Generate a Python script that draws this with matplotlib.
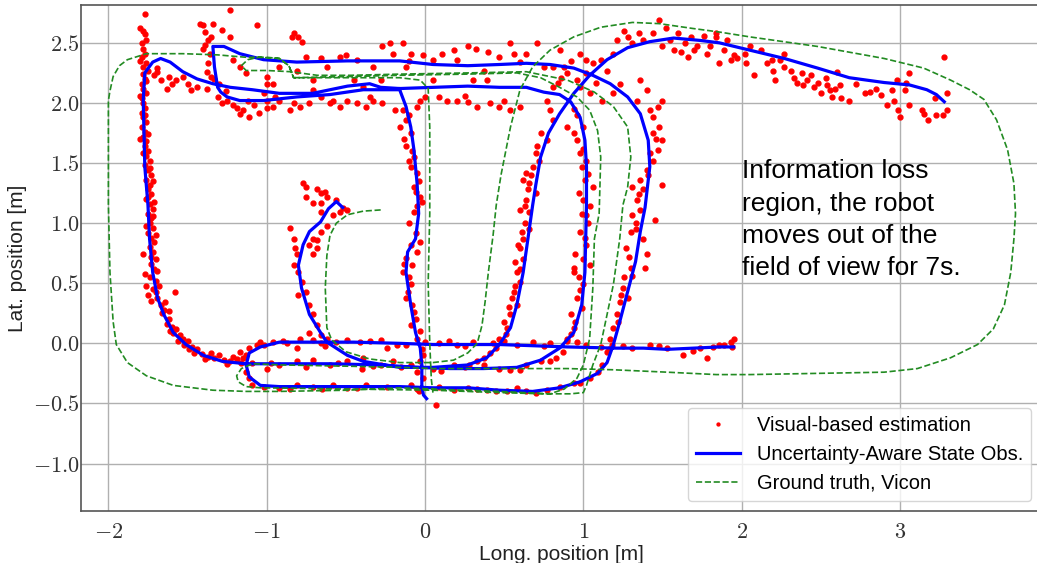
import numpy as np
import matplotlib
matplotlib.use('Agg')
import matplotlib.pyplot as plt
from matplotlib.ticker import FuncFormatter

# ---- estimator trajectory (blue), one list per piece
obs_part1 = [(-0.52, 1.13), (-0.56, 1.18), (-0.61, 1.12), (-0.66, 1.01), (-0.73, 0.93), (-0.77, 0.82),
             (-0.80, 0.65), (-0.78, 0.46), (-0.73, 0.24), (-0.66, 0.09), (-0.62, 0.01), (-0.49, -0.10),
             (-0.39, -0.15), (-0.16, -0.20), (0.05, -0.20), (0.27, -0.18), (0.39, -0.12), (0.47, -0.01),
             (0.54, 0.13), (0.58, 0.32), (0.62, 0.59), (0.65, 0.87), (0.68, 1.15), (0.70, 1.32),
             (0.73, 1.55), (0.78, 1.75), (0.85, 1.91), (0.94, 2.08), (1.04, 2.23), (1.15, 2.36),
             (1.28, 2.46), (1.42, 2.51), (1.57, 2.54), (1.74, 2.52), (1.86, 2.50), (2.05, 2.44),
             (2.27, 2.37), (2.48, 2.29), (2.68, 2.21), (2.90, 2.17), (3.06, 2.15), (3.17, 2.11),
             (3.23, 2.07), (3.28, 2.01)]
obs_part2 = [(1.95, -0.03), (1.86, -0.03), (1.70, -0.04), (1.53, -0.05), (1.38, -0.04), (1.21, -0.04),
             (0.90, -0.03), (0.47, -0.01), (0.05, -0.01), (-0.16, 0.00), (-0.45, 0.01), (-0.71, 0.01),
             (-0.92, 0.01), (-1.04, -0.03), (-1.11, -0.08), (-1.13, -0.18), (-1.11, -0.28), (-1.04, -0.35),
             (-0.92, -0.36), (-0.50, -0.36), (-0.16, -0.36), (0.05, -0.37), (0.27, -0.37), (0.47, -0.39),
             (0.68, -0.40), (0.85, -0.37), (0.98, -0.32), (1.09, -0.25), (1.15, -0.16), (1.19, -0.01),
             (1.23, 0.18), (1.28, 0.43), (1.33, 0.68), (1.36, 0.93), (1.39, 1.13), (1.42, 1.47),
             (1.41, 1.69), (1.36, 1.91), (1.28, 2.05), (1.17, 2.16), (1.06, 2.23), (0.94, 2.29),
             (0.79, 2.32), (0.64, 2.33), (0.47, 2.32), (0.27, 2.31), (0.05, 2.32), (-0.16, 2.35),
             (-0.49, 2.35), (-0.81, 2.34), (-1.02, 2.36), (-1.17, 2.41), (-1.27, 2.47), (-1.34, 2.47),
             (-1.33, 2.30), (-1.31, 2.13), (-1.29, 2.09), (-1.25, 2.05), (-1.17, 2.02), (-1.02, 2.02),
             (-0.81, 2.05), (-0.60, 2.07), (-0.39, 2.11), (-0.16, 2.11), (-0.12, 1.97), (-0.09, 1.80),
             (-0.07, 1.61), (-0.05, 1.33), (-0.04, 1.08), (-0.06, 0.87), (-0.11, 0.76), (-0.12, 0.59),
             (-0.09, 0.32), (-0.06, 0.09), (-0.03, -0.04), (-0.02, -0.18), (-0.02, -0.35), (-0.01, -0.43),
             (0.01, -0.46)]
obs_part3 = [(-0.16, 2.12), (0.05, 2.13), (0.27, 2.14), (0.47, 2.13), (0.64, 2.13), (0.75, 2.09),
             (0.85, 2.07), (0.92, 2.01), (0.98, 1.88), (1.01, 1.69), (1.02, 1.47), (1.02, 1.15),
             (1.01, 0.59), (0.99, 0.32), (0.94, 0.09), (0.85, -0.04), (0.73, -0.14), (0.58, -0.20),
             (0.37, -0.21), (0.16, -0.21), (-0.05, -0.20), (-0.28, -0.18), (-0.60, -0.17), (-0.92, -0.17),
             (-1.13, -0.17), (-1.28, -0.15), (-1.40, -0.10), (-1.51, -0.01), (-1.59, 0.09), (-1.65, 0.24),
             (-1.69, 0.38), (-1.72, 0.59), (-1.74, 0.87), (-1.75, 1.15), (-1.77, 1.47), (-1.78, 2.02),
             (-1.77, 2.25), (-1.72, 2.34), (-1.67, 2.37), (-1.61, 2.34), (-1.53, 2.26), (-1.44, 2.20),
             (-1.34, 2.16), (-1.23, 2.13), (-1.09, 2.11), (-0.92, 2.08), (-0.71, 2.08), (-0.49, 2.14),
             (-0.35, 2.16), (-0.28, 2.13), (-0.16, 2.12)]

# ---- ground truth (green dashed)
vicon_main = [(-0.28, 1.11), (-0.39, 1.10), (-0.49, 1.07), (-0.56, 1.00), (-0.60, 0.90), (-0.62, 0.73),
              (-0.63, 0.46), (-0.62, 0.13), (-0.59, 0.03), (-0.50, -0.07), (-0.35, -0.13), (-0.16, -0.16),
              (0.05, -0.16), (0.18, -0.14), (0.27, -0.08), (0.33, 0.00), (0.36, 0.15), (0.38, 0.35),
              (0.40, 0.59), (0.43, 0.90), (0.45, 1.15), (0.48, 1.40), (0.54, 1.80), (0.60, 2.11),
              (0.68, 2.30), (0.79, 2.44), (0.94, 2.55), (1.11, 2.63), (1.31, 2.67), (1.48, 2.66),
              (1.69, 2.62), (1.86, 2.59), (2.05, 2.55), (2.48, 2.47), (2.90, 2.37), (3.15, 2.29),
              (3.32, 2.19), (3.44, 2.11), (3.53, 2.03), (3.61, 1.86), (3.68, 1.61), (3.72, 1.33),
              (3.73, 1.08), (3.72, 0.87), (3.70, 0.59), (3.66, 0.32), (3.59, 0.12), (3.49, -0.01),
              (3.32, -0.12), (3.11, -0.21), (2.90, -0.24), (2.48, -0.25), (2.05, -0.26), (1.84, -0.26),
              (1.53, -0.24), (1.19, -0.22), (0.90, -0.21), (0.47, -0.21), (0.05, -0.21), (-0.16, -0.20),
              (-0.50, -0.19), (-0.90, -0.18), (-1.09, -0.17), (-1.16, -0.21), (-1.19, -0.27), (-1.18, -0.32),
              (-1.13, -0.36), (-1.04, -0.37), (-0.50, -0.38), (0.05, -0.39), (0.47, -0.41), (0.75, -0.42),
              (0.92, -0.42), (1.00, -0.41), (1.02, -0.35), (1.06, -0.18), (1.11, -0.01), (1.15, 0.24),
              (1.19, 0.49), (1.23, 0.87), (1.25, 1.15), (1.28, 1.30), (1.30, 1.55), (1.28, 1.80),
              (1.19, 1.97), (1.07, 2.09), (0.90, 2.19), (0.64, 2.26), (0.27, 2.25), (-0.16, 2.24),
              (-0.47, 2.23), (-0.68, 2.23), (-0.85, 2.26), (-1.00, 2.27), (-1.13, 2.27), (-1.16, 2.31),
              (-1.12, 2.36), (-1.05, 2.38), (-0.92, 2.37), (-0.86, 2.31), (-0.83, 2.21), (-0.68, 2.21),
              (-0.47, 2.21), (-0.16, 2.21), (-0.03, 2.19), (0.02, 2.12), (0.03, 1.80), (0.03, 1.08),
              (0.02, 0.50), (0.03, 0.00), (0.04, -0.30), (0.05, -0.41)]
vicon_outer = [(-0.83, 2.21), (-0.47, 2.22), (-0.16, 2.23), (0.27, 2.24), (0.58, 2.25), (0.73, 2.21),
               (0.85, 2.13), (0.96, 2.05), (1.04, 1.94), (1.09, 1.77), (1.11, 1.55), (1.10, 1.08),
               (1.07, 0.87), (1.06, 0.46), (1.04, 0.04), (1.00, -0.18), (0.96, -0.29), (0.88, -0.38),
               (0.79, -0.42), (0.47, -0.40), (0.05, -0.38), (-0.16, -0.37), (-0.49, -0.39), (-0.92, -0.40),
               (-1.13, -0.40), (-1.34, -0.39), (-1.59, -0.35), (-1.76, -0.27), (-1.88, -0.16), (-1.95, -0.01),
               (-1.97, 0.18), (-1.99, 0.59), (-2.00, 1.15), (-2.00, 2.02), (-1.99, 2.10), (-1.97, 2.22),
               (-1.93, 2.31), (-1.88, 2.36), (-1.76, 2.41), (-1.53, 2.41), (-1.31, 2.40), (-1.13, 2.38),
               (-1.00, 2.38), (-0.92, 2.37), (-0.86, 2.31), (-0.83, 2.21)]

# ---- visual-based estimates (red dots), grouped by area
vis_left_column = [(-1.77, 2.74), (-1.78, 2.60), (-1.77, 2.57), (-1.79, 2.50), (-1.78, 2.45), (-1.77, 2.41),
                   (-1.79, 2.38), (-1.76, 2.33), (-1.78, 2.30), (-1.75, 2.27), (-1.78, 2.24), (-1.77, 2.20),
                   (-1.79, 2.16), (-1.78, 2.12), (-1.76, 2.08), (-1.79, 2.04), (-1.78, 2.00), (-1.77, 1.96),
                   (-1.79, 1.92), (-1.78, 1.88), (-1.76, 1.84), (-1.79, 1.80), (-1.77, 1.76), (-1.78, 1.72),
                   (-1.76, 1.68), (-1.77, 1.64), (-1.75, 1.60), (-1.76, 1.56), (-1.74, 1.52), (-1.77, 1.48),
                   (-1.75, 1.44), (-1.73, 1.40), (-1.76, 1.36), (-1.74, 1.32), (-1.75, 1.28), (-1.73, 1.24),
                   (-1.76, 1.20), (-1.74, 1.16), (-1.72, 1.12), (-1.75, 1.08), (-1.73, 1.04), (-1.74, 1.00),
                   (-1.72, 0.96), (-1.75, 0.92), (-1.73, 0.88), (-1.71, 0.84), (-1.74, 0.80), (-1.78, 0.74),
                   (-1.72, 0.76), (-1.70, 0.70), (-1.73, 0.66), (-1.71, 0.62), (-1.77, 0.58), (-1.74, 0.55),
                   (-1.70, 0.52), (-1.76, 0.48), (-1.72, 0.45), (-1.58, 0.43), (-1.75, 0.40), (-1.69, 0.38),
                   (-1.73, 0.35), (-1.67, 0.32), (-1.65, 0.28), (-1.66, 0.25), (-1.80, 2.62), (-1.76, 2.52),
                   (-1.80, 2.35), (-1.76, 2.18), (-1.80, 2.06), (-1.77, 1.90), (-1.80, 1.70), (-1.75, 1.74),
                   (-1.78, 1.58), (-1.74, 1.46), (-1.72, 1.35), (-1.75, 1.22), (-1.71, 1.18), (-1.72, 1.06),
                   (-1.76, 0.98), (-1.70, 0.90), (-1.73, 0.72), (-1.69, 0.60), (-1.68, 0.48), (-1.70, 0.43),
                   (-1.64, 0.34), (-1.62, 0.27)]
vis_left_corner = [(-1.62, 0.20), (-1.63, 0.16), (-1.60, 0.14), (-1.57, 0.12), (-1.59, 0.09), (-1.55, 0.07),
                   (-1.53, 0.04), (-1.50, 0.02), (-1.52, -0.01), (-1.47, -0.03), (-1.44, -0.05), (-1.46, -0.08),
                   (-1.41, -0.09), (-1.37, -0.11), (-1.33, -0.12), (-1.30, -0.10), (-1.27, -0.14), (-1.23, -0.15),
                   (-1.19, -0.13), (-1.16, -0.16), (-1.61, 0.10), (-1.56, 0.02), (-1.49, -0.05), (-1.39, -0.13),
                   (-1.35, -0.08), (-1.25, -0.17), (-1.21, -0.11)]
vis_top_left = [(-1.69, 2.29), (-1.69, 2.26), (-1.71, 2.23), (-1.67, 2.19), (-1.62, 2.22), (-1.63, 2.12),
                (-1.60, 2.16), (-1.57, 2.19), (-1.50, 2.16), (-1.53, 2.22), (-1.44, 2.13), (-1.48, 2.11),
                (-1.38, 2.12), (-1.42, 2.66), (-1.40, 2.65), (-1.39, 2.59), (-1.37, 2.52), (-1.39, 2.48),
                (-1.36, 2.41), (-1.37, 2.33), (-1.38, 2.26), (-1.35, 2.22), (-1.34, 2.66), (-1.28, 2.61),
                (-1.23, 2.77), (-1.23, 2.55), (-1.30, 2.16), (-1.31, 2.05), (-1.28, 2.00), (-1.25, 2.02),
                (-1.21, 1.98), (-1.19, 1.96), (-1.15, 1.94), (-1.11, 1.88), (-1.17, 1.91), (-1.21, 2.36),
                (-1.17, 2.30), (-1.13, 2.25), (-1.06, 2.65), (-1.05, 1.92), (-1.08, 1.98), (-1.00, 1.96),
                (-1.12, 2.02), (-1.40, 2.45), (-1.35, 2.55), (-1.33, 2.20), (-1.26, 2.10)]
vis_top_mid = [(-1.00, 2.22), (-0.96, 2.16), (-1.00, 2.02), (-0.96, 1.97), (-0.92, 2.02), (-0.85, 1.94),
               (-0.83, 2.00), (-0.79, 1.97), (-0.73, 2.00), (-0.71, 2.11), (-0.66, 2.05), (-0.58, 2.02),
               (-0.54, 1.97), (-0.49, 2.02), (-0.43, 2.00), (-0.37, 1.97), (-0.33, 2.02), (-0.27, 2.00),
               (-0.19, 1.94), (-0.92, 2.30), (-0.81, 2.27), (-0.75, 2.38), (-0.66, 2.37), (-0.62, 2.30),
               (-0.54, 2.38), (-0.43, 2.36), (-0.33, 2.30), (-0.27, 2.47), (-0.22, 2.50), (-0.20, 2.41),
               (-0.83, 2.58), (-0.80, 2.55), (-0.78, 2.51), (-0.84, 2.55), (-1.00, 2.16), (-0.71, 2.19),
               (-0.45, 2.19), (-0.39, 2.13), (-0.28, 2.19), (-1.02, 2.08), (-0.14, 2.50), (-0.09, 2.41),
               (-0.12, 2.30), (-0.01, 2.40), (0.05, 2.36), (0.11, 2.41), (0.18, 2.44), (0.27, 2.47),
               (0.32, 2.45), (0.37, 2.27), (0.47, 2.38), (0.54, 2.50), (0.56, 2.41), (0.64, 2.41),
               (0.71, 2.50), (0.75, 2.30), (0.81, 2.30), (0.85, 2.44), (0.05, 2.19), (0.09, 2.05),
               (0.14, 2.02), (0.20, 2.02), (0.27, 2.01), (0.33, 1.97), (0.41, 2.00), (0.47, 1.97),
               (0.54, 1.94), (0.60, 1.97), (0.30, 2.19), (0.39, 2.19), (-0.03, 2.02), (-0.05, 1.97),
               (-0.60, 2.00), (-0.35, 2.05), (-0.95, 2.05), (0.00, 2.05), (0.25, 2.06), (0.50, 2.02),
               (-0.50, 2.40), (-0.10, 2.35), (0.20, 2.36), (0.60, 2.34), (0.40, 2.42)]
vis_cross = [(0.98, 2.41), (1.02, 2.36), (1.06, 2.33), (1.11, 2.36), (0.96, 2.19), (1.02, 2.25),
             (1.15, 2.27), (1.19, 2.41), (1.21, 2.52), (1.28, 2.55), (1.31, 2.50), (1.38, 2.52),
             (1.44, 2.58), (1.48, 2.69), (1.50, 2.47), (1.57, 2.44), (1.66, 2.38), (1.72, 2.47),
             (1.80, 2.47), (1.84, 2.58), (1.36, 2.19), (1.40, 2.11), (1.34, 2.02), (1.47, 1.97),
             (1.50, 2.02), (1.23, 2.16), (1.19, 2.08), (0.81, 2.13), (0.77, 2.02), (0.79, 1.94),
             (0.81, 1.86), (0.73, 1.75), (0.77, 1.69), (0.71, 1.64), (0.90, 1.80), (0.94, 1.75),
             (0.96, 1.69), (0.90, 2.25), (0.86, 2.21), (0.88, 2.30), (0.92, 2.35), (0.84, 2.17),
             (0.98, 2.13), (1.04, 2.08), (1.08, 2.17), (1.12, 2.02), (1.55, 2.52), (1.60, 2.58),
             (1.64, 2.50), (1.68, 2.55), (1.76, 2.56), (1.52, 2.62), (1.35, 2.58), (1.26, 2.60),
             (1.62, 2.42), (1.70, 2.44), (1.78, 2.41), (0.96, 1.90), (1.00, 1.80), (0.94, 1.95)]
vis_top_right = [(1.84, 2.55), (1.89, 2.44), (1.91, 2.52), (1.86, 2.33), (1.93, 2.36), (1.95, 2.40),
                 (1.97, 2.37), (2.02, 2.41), (2.05, 2.47), (2.03, 2.33), (2.08, 2.23), (2.12, 2.44),
                 (2.16, 2.33), (2.19, 2.36), (2.20, 2.27), (2.21, 2.19), (2.24, 2.36), (2.27, 2.30),
                 (2.27, 2.41), (2.31, 2.27), (2.33, 2.21), (2.35, 2.17), (2.38, 2.25), (2.39, 2.15),
                 (2.41, 2.19), (2.44, 2.23), (2.46, 2.13), (2.48, 2.17), (2.50, 2.08), (2.53, 2.21),
                 (2.54, 2.15), (2.56, 2.11), (2.57, 2.05), (2.59, 2.12), (2.60, 2.26), (2.62, 2.15),
                 (2.63, 2.04), (2.68, 2.02), (2.72, 2.16), (2.78, 2.08), (2.81, 2.09), (2.85, 2.12),
                 (2.88, 2.07), (2.92, 1.98), (2.95, 2.11), (2.96, 2.02), (2.98, 2.19), (2.99, 1.94),
                 (3.00, 1.88), (3.03, 2.11), (3.04, 2.17), (3.06, 2.25), (3.06, 1.98), (3.14, 1.94),
                 (3.15, 1.91), (3.18, 1.86), (3.22, 2.04), (3.23, 1.90), (3.27, 1.90), (3.28, 2.38),
                 (3.30, 2.08), (3.30, 1.94)]
vis_col_06 = [(0.68, 1.47), (0.64, 1.42), (0.66, 1.33), (0.62, 1.36), (0.64, 1.19), (0.60, 1.11),
              (0.66, 1.09), (0.62, 0.87), (0.60, 0.79), (0.58, 0.59), (0.60, 0.51), (0.56, 0.43),
              (0.58, 0.32), (0.54, 0.24), (0.52, 0.13), (0.47, 0.04), (0.45, -0.04), (0.41, -0.08),
              (0.37, -0.12), (0.33, -0.15), (0.28, -0.18), (0.70, 1.25), (0.63, 1.00), (0.66, 0.95),
              (0.57, 0.68), (0.62, 0.70), (0.55, 0.38), (0.50, 0.18), (0.70, 1.58), (0.72, 1.52),
              (0.67, 1.40), (0.65, 1.28), (0.63, 1.14), (0.61, 0.93), (0.59, 0.82), (0.60, 0.62),
              (0.57, 0.48), (0.53, 0.30), (0.51, 0.08)]
vis_col_10 = [(0.98, 1.58), (1.02, 1.52), (0.99, 1.47), (1.01, 1.36), (1.06, 1.30), (1.00, 1.19),
              (1.04, 1.14), (1.02, 1.07), (0.98, 0.93), (1.02, 0.82), (0.95, 0.74), (1.04, 0.65),
              (0.94, 0.59), (1.00, 0.49), (0.96, 0.38), (0.99, 0.29), (0.92, 0.24), (0.94, 0.13),
              (0.90, 0.04), (0.87, -0.07), (0.83, -0.12), (0.79, -0.15), (0.94, 0.63), (1.03, 1.00),
              (0.97, 1.25), (1.00, 0.70), (1.00, 1.62), (1.03, 1.41), (0.99, 1.08), (1.01, 0.88),
              (0.97, 0.55), (0.98, 0.44), (0.95, 0.18), (0.92, 0.08)]
vis_col_14 = [(1.44, 1.88), (1.48, 1.80), (1.44, 1.75), (1.50, 1.69), (1.47, 1.61), (1.44, 1.52),
              (1.50, 1.32), (1.40, 1.44), (1.36, 1.36), (1.38, 1.28), (1.34, 1.19), (1.36, 1.11),
              (1.31, 1.30), (1.31, 1.07), (1.30, 0.93), (1.38, 0.87), (1.27, 0.79), (1.39, 0.63),
              (1.30, 0.63), (1.25, 0.46), (1.23, 0.34), (1.28, 0.38), (1.21, 0.24), (1.19, 0.13),
              (1.17, 0.04), (1.15, -0.07), (1.12, -0.18), (1.09, -0.24), (1.04, -0.29), (0.98, -0.33),
              (1.45, 1.03), (1.40, 0.74), (1.33, 1.00), (1.26, 0.55), (1.42, 1.94), (1.46, 1.70),
              (1.42, 1.58), (1.41, 1.40), (1.35, 1.24), (1.33, 0.95), (1.29, 0.72), (1.31, 0.56),
              (1.24, 0.40), (1.22, 0.18), (1.18, -0.01)]
vis_col_00 = [(-0.14, 1.94), (-0.12, 1.86), (-0.16, 1.80), (-0.09, 1.75), (-0.12, 1.64), (-0.07, 1.55),
              (-0.09, 1.47), (-0.05, 1.42), (-0.07, 1.30), (-0.03, 1.22), (-0.05, 1.14), (-0.07, 1.09),
              (-0.03, 0.84), (-0.09, 0.82), (-0.12, 0.71), (-0.05, 0.76), (-0.14, 0.59), (-0.09, 0.49),
              (-0.12, 0.38), (-0.07, 0.26), (-0.09, 0.15), (-0.05, 0.04), (-0.01, -0.10), (-0.05, -0.24),
              (-0.01, -0.29), (0.07, -0.51), (-0.04, -0.40), (-0.10, 1.00), (-0.08, 0.65), (-0.10, 1.90),
              (-0.13, 1.70), (-0.08, 1.60), (-0.10, 1.52), (-0.04, 1.35), (-0.06, 1.26), (-0.02, 1.18),
              (-0.06, 0.92), (-0.13, 0.66), (-0.10, 0.55), (-0.11, 0.43), (-0.08, 0.32), (-0.06, 0.20),
              (-0.03, 0.10), (-0.02, -0.05), (-0.03, -0.15)]
vis_start = [(-0.77, 1.33), (-0.75, 1.30), (-0.68, 1.28), (-0.66, 1.25), (-0.63, 1.26), (-0.62, 1.22),
             (-0.75, 1.22), (-0.71, 1.17), (-0.66, 1.17), (-0.56, 1.19), (-0.52, 1.13), (-0.49, 1.11),
             (-0.54, 1.09), (-0.66, 1.09), (-0.58, 1.07), (-0.62, 0.98), (-0.66, 0.93), (-0.71, 0.87),
             (-0.85, 0.96), (-0.73, 0.82), (-0.68, 0.79), (-0.81, 0.74), (-0.83, 0.87), (-0.82, 0.79),
             (-0.80, 0.59), (-0.83, 0.65), (-0.78, 0.51), (-0.75, 0.43), (-0.80, 0.40), (-0.73, 0.32),
             (-0.71, 0.24), (-0.68, 0.15), (-0.73, 0.09), (-0.66, 0.07), (-0.62, 0.04), (-0.71, 0.74),
             (-0.68, 0.86)]
vis_row_0 = [(-1.02, -0.01), (-0.96, 0.01), (-0.87, 0.00), (-0.81, -0.04), (-0.79, 0.04), (-0.71, 0.03),
             (-0.56, 0.01), (-0.49, 0.03), (-0.41, 0.01), (-0.28, 0.03), (-0.24, -0.04), (-0.18, -0.01),
             (-0.12, -0.01), (0.09, 0.00), (0.20, -0.01), (0.30, 0.01), (0.43, 0.00), (0.58, -0.01),
             (0.68, 0.01), (0.79, 0.00), (1.02, -0.01), (1.11, -0.03), (1.31, -0.04), (1.42, -0.01),
             (1.53, -0.04), (1.63, -0.10), (1.74, -0.04), (1.78, -0.12), (1.82, -0.03), (1.86, -0.01),
             (1.89, -0.01), (1.93, 0.01), (1.95, 0.04), (1.94, -0.03), (-0.63, -0.02), (0.15, 0.02),
             (0.90, 0.02), (1.25, -0.02), (-1.17, -0.07), (-1.15, -0.12), (-1.13, -0.10), (-1.11, -0.04),
             (-1.06, -0.01), (-1.04, 0.01), (-0.90, 0.02), (-0.66, 0.00), (-0.35, 0.02), (0.00, 0.01),
             (0.25, -0.02), (0.50, 0.02), (0.75, -0.02), (0.96, 0.01), (1.16, -0.05), (1.48, -0.02),
             (1.69, -0.06)]
vis_row_m02 = [(-1.09, -0.16), (-1.00, -0.21), (-0.92, -0.18), (-0.81, -0.15), (-0.71, -0.14), (-0.60, -0.18),
               (-0.49, -0.15), (-0.39, -0.12), (-0.28, -0.18), (-0.20, -0.15), (-0.09, -0.18), (0.05, -0.21),
               (0.18, -0.18), (0.47, -0.21), (0.54, -0.22), (0.64, -0.18), (0.73, -0.15), (0.37, -0.18),
               (-0.75, -0.20), (-0.40, -0.21), (0.10, -0.23), (-0.55, -0.16), (-0.33, -0.19), (-0.15, -0.20),
               (0.25, -0.20), (0.60, -0.22), (-0.97, -0.16)]
vis_row_m04 = [(-1.13, -0.24), (-1.11, -0.29), (-1.09, -0.35), (-1.02, -0.36), (-0.92, -0.37), (-0.81, -0.35),
               (-0.71, -0.36), (-0.58, -0.35), (-0.49, -0.37), (-0.37, -0.35), (-0.24, -0.36), (-0.09, -0.35),
               (0.09, -0.36), (0.27, -0.37), (0.39, -0.39), (0.52, -0.40), (0.64, -0.40), (0.77, -0.39),
               (0.85, -0.36), (0.94, -0.33), (-0.65, -0.38), (0.18, -0.39), (0.58, -0.37), (-0.85, -0.38),
               (-0.43, -0.37), (-0.05, -0.38), (0.33, -0.38), (0.70, -0.41), (0.45, -0.40)]

x_ticks = [-2, -1, 0, 1, 2, 3]
y_ticks = [-1.0, -0.5, 0.0, 0.5, 1.0, 1.5, 2.0, 2.5]
note = "Information loss\nregion, the robot\nmoves out of the\nfield of view for 7s."


def join_pieces(pieces):
    # put NaN between pieces so each kind is one Line2D (one legend entry)
    xs, ys = [], []
    for p in pieces:
        px, py = zip(*p)
        xs += list(px) + [np.nan]
        ys += list(py) + [np.nan]
    return np.array(xs), np.array(ys)


plt.rcParams['font.family'] = ['Liberation Sans', 'DejaVu Sans']
plt.rcParams['mathtext.fontset'] = 'cm'

fig = plt.figure(figsize=(10.37, 5.63), dpi=100)
ax = fig.add_axes([81 / 1037, 52 / 563, 960 / 1037, 506 / 563])

vis = (vis_left_column + vis_left_corner + vis_top_left + vis_top_mid + vis_cross + vis_top_right
       + vis_col_06 + vis_col_10 + vis_col_14 + vis_col_00 + vis_start + vis_row_0 + vis_row_m02 + vis_row_m04)
vx, vy = zip(*vis)
ax.plot(vx, vy, '.', color='red', ms=7, lw=0, label='Visual-based estimation')

bx, by = join_pieces([obs_part1, obs_part2, obs_part3])
ax.plot(bx, by, color='blue', lw=2.3, label='Uncertainty-Aware State Obs.')

gx, gy = join_pieces([vicon_main, vicon_outer])
ax.plot(gx, gy, '--', color='forestgreen', lw=1.2, label='Ground truth, Vicon')

ax.text(2.0, 1.53, note, fontsize=19, ha='left', va='top', linespacing=1.43, color='black')

ax.set_xlim(-2.173, 3.891)
ax.set_ylim(-1.395, 2.815)
ax.set_xticks(x_ticks)
ax.set_yticks(y_ticks)
ax.xaxis.set_major_formatter(FuncFormatter(lambda v, p: r'$%d$' % round(v)))
ax.yaxis.set_major_formatter(FuncFormatter(lambda v, p: r'$%.1f$' % v))
ax.tick_params(axis='both', length=0, labelsize=16, labelcolor='#333333')
ax.tick_params(axis='x', pad=8)
ax.tick_params(axis='y', pad=1)
ax.grid(True, color='#b0b0b0', lw=1.0)
ax.set_axisbelow(True)
for s in ax.spines.values():
    s.set_color('#555555')
    s.set_linewidth(1.2)

ax.set_xlabel('Long. position [m]', fontsize=15, color='#222222', labelpad=1)
ax.set_ylabel('Lat. position [m]', fontsize=15, color='#222222', labelpad=4)

leg = ax.legend(loc='lower right', fontsize=14.5, labelspacing=0.5, handlelength=2.2,
                markerscale=0.6, framealpha=0.8, edgecolor='#cccccc', borderaxespad=0.5)

fig.savefig('out.png', dpi=100)
